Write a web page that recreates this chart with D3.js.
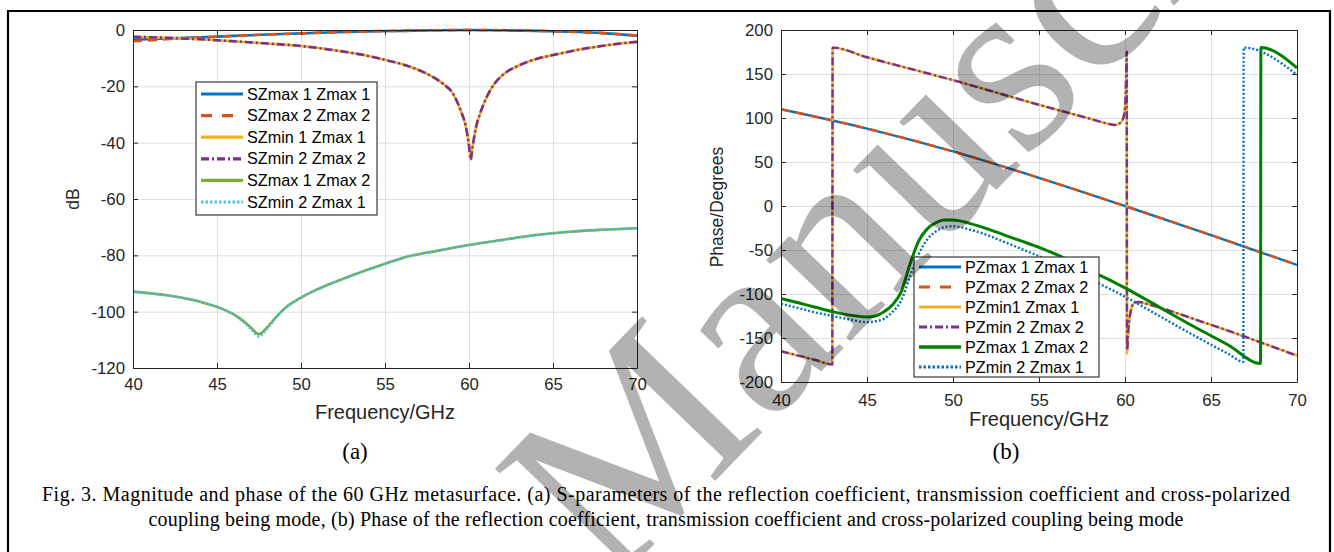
<!DOCTYPE html>
<html>
<head>
<meta charset="utf-8">
<script src="https://cdn.jsdelivr.net/npm/d3@7"></script>
<style>
  body { margin: 0; background: #fff; }
  svg text { font-family: "Liberation Sans", Arial, sans-serif; }
  .grid line { stroke: #dedede; stroke-width: 1; }
  .grid path { display: none; }
  .axis path, .axis line { stroke: #262626; stroke-width: 1; }
  .axis text { fill: #262626; font-size: 16.8px; font-family: "Liberation Sans", Arial, sans-serif; }
</style>
</head>
<body>
<svg id="fig" width="1334" height="552"></svg>
<script>
// ---------- data ----------
const freqTicks = [40, 45, 50, 55, 60, 65, 70];
const magTicks = [0, -20, -40, -60, -80, -100, -120];
const phaseTicks = [200, 150, 100, 50, 0, -50, -100, -150, -200];

const magNames = ["SZmax 1 Zmax 1", "SZmax 2 Zmax 2", "SZmin 1 Zmax 1", "SZmin 2 Zmax 2", "SZmax 1 Zmax 2", "SZmin 2 Zmax 1"];
const phaseNames = ["PZmax 1 Zmax 1", "PZmax 2 Zmax 2", "PZmin1 Zmax 1", "PZmin 2 Zmax 2", "PZmax 1 Zmax 2", "PZmin 2 Zmax 1"];

// (a) magnitude, dB
const magFreqA = [40, 42, 44, 46, 48, 50, 52, 54, 56, 58, 60, 62, 64, 66, 68, 70];
const magSZmax11 = [-3.4, -3.0, -2.6, -2.1, -1.6, -1.2, -0.8, -0.5, -0.3, -0.1, 0, -0.1, -0.3, -0.6, -1.1, -2.0];
const magSZmax22 = [-4.0, -3.3, -2.7, -2.1, -1.6, -1.2, -0.8, -0.5, -0.3, -0.1, 0, -0.1, -0.3, -0.6, -1.1, -2.0];

const magFreqB = [40, 42, 44, 46, 48, 50, 52, 54, 55, 56, 57, 58, 58.5, 59, 59.5, 59.8, 60, 60.1, 60.2, 60.4, 60.7, 61, 61.5, 62, 63, 64, 65, 66, 67, 68, 69, 70];
const magSZmin11 = [-2.4, -2.8, -3.3, -4.0, -4.8, -5.7, -7.2, -9.2, -10.6, -12.1, -14.2, -17.2, -19.3, -22.2, -28.5, -34, -41, -46, -42, -35, -29, -24.5, -19.2, -16, -12.5, -10.3, -8.9, -7.6, -6.5, -5.6, -4.8, -4.2];
const magSZmin22 = [-2.4, -2.8, -3.3, -4.0, -4.8, -5.7, -7.2, -9.2, -10.6, -12.1, -14.2, -17.2, -19.3, -22.2, -28.5, -34, -41, -46, -42, -35, -29, -24.5, -19.2, -16, -12.5, -10.3, -8.9, -7.6, -6.5, -5.6, -4.8, -4.2];

const magFreqC = [40, 42, 44, 45, 46, 46.5, 47, 47.5, 48, 48.5, 49, 50, 51, 52, 54, 55, 56, 58, 60, 62, 64, 66, 68, 70];
const magSZmax12 = [-92.9, -94.2, -96.5, -98.3, -101, -103, -105.5, -108, -105.5, -102, -99, -95, -92, -89.5, -85, -83, -81, -78.5, -76.3, -74.5, -72.8, -71.6, -70.9, -70.4];
const magSZmin21 = [-92.9, -94.2, -96.5, -98.3, -101, -103.3, -106, -108.8, -106, -102.3, -99, -95, -92, -89.5, -85, -83, -81, -78.5, -76.3, -74.5, -72.8, -71.6, -70.9, -70.4];

// (b) phase, degrees
const phFreqA = [40, 45, 50, 55, 60, 65, 70];
const phPZmax11 = [110, 88, 62, 32, 0, -33, -67];
const phPZmax22 = [110, 88, 62, 32, 0, -33, -67];

const phFreqB = [40, 41, 42, 42.98, 43, 45, 50, 55, 58, 59, 59.4, 59.7, 59.9, 60, 60.05, 60.1, 60.12, 60.2, 60.35, 60.5, 60.8, 61.2, 65, 70];
const phPZmin11 = [-165, -170, -175, -180, 180, 169, 143, 115, 99, 93.5, 92, 94, 100, 112, 135, 175, -168, -140, -118, -111, -109, -111, -135, -170];
const phPZmin22 = [-165, -170, -175, -180, 180, 169, 143, 115, 99, 93.5, 92, 94, 100, 112, 135, 175, -164, -140, -118, -111, -109, -111, -135, -170];

const phFreqC = [40, 41, 42, 43, 44, 45, 45.5, 46, 46.5, 47, 47.5, 48, 48.5, 49, 49.5, 50, 51, 52, 53, 54, 55, 56, 57, 58, 59, 60, 62, 64, 66, 67.88, 67.9, 70];
const phPZmax12 = [-105, -110, -115, -120, -124, -126, -125, -120, -112, -97, -66, -40, -26, -19, -16, -16, -20, -26, -33, -40, -47, -55, -64, -74, -83, -93, -115, -137, -158, -179, 180, 157];

const phFreqD = [40, 41, 42, 43, 44, 45, 45.5, 46, 46.5, 47, 47.5, 48, 48.5, 49, 49.5, 50, 51, 52, 53, 54, 55, 56, 57, 58, 59, 60, 62, 64, 66, 66.88, 66.9, 70];
const phPZmin21 = [-111, -116, -121, -125, -129, -132, -131, -128, -120, -107, -80, -55, -38, -29, -24, -23, -27, -33, -41, -49, -57, -66, -75, -84, -93, -103, -125, -147, -168, -177, 180, 149];

const captionLines = [
  "Fig. 3. Magnitude and phase of the 60 GHz metasurface. (a) S-parameters of the reflection coefficient, transmission coefficient and cross-polarized",
  "coupling being mode, (b) Phase of the reflection coefficient, transmission coefficient and cross-polarized coupling being mode"
];

// ---------- styles ----------
const magStyles = [
  { color: "#0072BD", dash: null, w: 2.6 },
  { color: "#D95319", dash: "9,6", w: 2.6 },
  { color: "#EDB120", dash: null, w: 2.6 },
  { color: "#7E2F8E", dash: "8,3,2,3", w: 2.6 },
  { color: "#77AC30", dash: null, w: 2.6 },
  { color: "#4DBEEE", dash: "2,2", w: 2.6 }
];
const phStyles = [
  { color: "#0072BD", dash: null, w: 2.4 },
  { color: "#D95319", dash: "9,6", w: 2.4 },
  { color: "#EDB120", dash: null, w: 2.4 },
  { color: "#7E2F8E", dash: "8,3,2,3", w: 2.4 },
  { color: "#008000", dash: null, w: 3 },
  { color: "#0072BD", dash: "2,2", w: 2.4 }
];

const serif = "'Liberation Serif', 'Times New Roman', Tinos, serif";
const svg = d3.select("#fig");
svg.append("rect").attr("width", 1334).attr("height", 552).attr("fill", "#fff");

function zip(xs, ys) { return xs.map((x, i) => [x, ys[i]]); }
const plain = d => String(d); // hyphen minus like the original, not U+2212

function panel(opt) {
  const x = d3.scaleLinear().domain([40, 70]).range([opt.left, opt.right]);
  const y = d3.scaleLinear().domain(opt.yDomain).range([opt.bottom, opt.top]);
  const g = svg.append("g");
  const w = opt.right - opt.left, h = opt.bottom - opt.top;

  // grid
  g.append("g").attr("class", "grid")
    .attr("transform", "translate(0," + opt.bottom + ")")
    .call(d3.axisBottom(x).tickValues(freqTicks).tickSize(-h).tickFormat(""));
  g.append("g").attr("class", "grid")
    .attr("transform", "translate(" + opt.left + ",0)")
    .call(d3.axisLeft(y).tickValues(opt.yTicks).tickSize(-w).tickFormat(""));

  const clipId = "clip" + opt.id;
  svg.append("clipPath").attr("id", clipId)
    .append("rect").attr("x", opt.left).attr("y", opt.top - 2).attr("width", w).attr("height", h + 4);

  const line = d3.line().x(d => x(d[0])).y(d => y(d[1])).curve(d3.curveMonotoneX);
  const lines = g.append("g").attr("clip-path", "url(#" + clipId + ")");
  opt.series.forEach((s, i) => {
    const st = opt.styles[i];
    lines.append("path")
      .attr("d", line(s))
      .attr("fill", "none")
      .attr("stroke", st.color)
      .attr("stroke-width", st.w)
      .attr("stroke-dasharray", st.dash);
  });

  // axes, ticks pointing inward on all four sides
  g.append("g").attr("class", "axis")
    .attr("transform", "translate(0," + opt.bottom + ")")
    .call(d3.axisBottom(x).tickValues(freqTicks).tickFormat(plain).tickSizeInner(-5).tickSizeOuter(0).tickPadding(opt.xPad));
  g.append("g").attr("class", "axis")
    .attr("transform", "translate(0," + opt.top + ")")
    .call(d3.axisTop(x).tickValues(freqTicks).tickSizeInner(-5).tickSizeOuter(0).tickFormat(""));
  g.append("g").attr("class", "axis")
    .attr("transform", "translate(" + opt.left + ",0)")
    .call(d3.axisLeft(y).tickValues(opt.yTicks).tickFormat(plain).tickSizeInner(-5).tickSizeOuter(0).tickPadding(8));
  g.append("g").attr("class", "axis")
    .attr("transform", "translate(" + opt.right + ",0)")
    .call(d3.axisRight(y).tickValues(opt.yTicks).tickSizeInner(-5).tickSizeOuter(0).tickFormat(""));

  // axis labels
  g.append("text")
    .attr("x", (opt.left + opt.right) / 2).attr("y", opt.xLabelY)
    .attr("text-anchor", "middle").attr("font-size", 20).attr("fill", "#262626")
    .text("Frequency/GHz");
  g.append("text")
    .attr("transform", "translate(" + opt.yLabelX + "," + opt.yLabelY + ") rotate(-90)")
    .attr("text-anchor", "middle").attr("font-size", 17.5).attr("fill", "#262626")
    .text(opt.yLabel);

  // legend
  const lg = g.append("g").attr("transform", "translate(" + opt.legend.x + "," + opt.legend.y + ")");
  lg.append("rect")
    .attr("width", opt.legend.w).attr("height", opt.legend.h)
    .attr("fill", "#fff").attr("stroke", "#3a3a3a").attr("stroke-width", 1.2);
  opt.names.forEach((name, i) => {
    const st = opt.styles[i];
    const cy = opt.legend.row0 + i * opt.legend.step;
    lg.append("line")
      .attr("x1", 5).attr("x2", 47).attr("y1", cy).attr("y2", cy)
      .attr("stroke", st.color).attr("stroke-width", st.w + 0.6)
      .attr("stroke-dasharray", st.dash === "2,2" ? "2.5,2" : st.dash === "9,6" ? "11,10" : st.dash);
    lg.append("text")
      .attr("x", 51).attr("y", cy + 5.5)
      .attr("font-size", 16.2).attr("fill", "#000")
      .text(name);
  });

  // sub caption
  svg.append("text")
    .attr("x", opt.subX).attr("y", 459)
    .attr("text-anchor", "middle")
    .style("font-family", serif)
    .attr("font-size", 23).attr("fill", "#000")
    .text(opt.sub);
}

panel({
  id: "a", left: 133, right: 637, top: 30, bottom: 368,
  yDomain: [-120, 0], yTicks: magTicks, xPad: 10,
  xLabelY: 419, yLabel: "dB", yLabelX: 79, yLabelY: 199,
  names: magNames, styles: magStyles,
  series: [zip(magFreqA, magSZmax11), zip(magFreqA, magSZmax22), zip(magFreqB, magSZmin11),
           zip(magFreqB, magSZmin22), zip(magFreqC, magSZmax12), zip(magFreqC, magSZmin21)],
  legend: { x: 196, y: 82, w: 181, h: 133, row0: 12, step: 21.6 },
  sub: "(a)", subX: 355
});

panel({
  id: "b", left: 781, right: 1297, top: 30, bottom: 382,
  yDomain: [-200, 200], yTicks: phaseTicks, xPad: 12,
  xLabelY: 426, yLabel: "Phase/Degrees", yLabelX: 723, yLabelY: 207,
  names: phaseNames, styles: phStyles,
  series: [zip(phFreqA, phPZmax11), zip(phFreqA, phPZmax22), zip(phFreqB, phPZmin11),
           zip(phFreqB, phPZmin22), zip(phFreqC, phPZmax12), zip(phFreqD, phPZmin21)],
  legend: { x: 914, y: 257, w: 185, h: 120, row0: 10, step: 20 },
  sub: "(b)", subX: 1006
});

// caption: first line justified, second centred
const capWidths = [1248, 1035];
captionLines.forEach((t, i) => {
  svg.append("text")
    .attr("x", 666).attr("y", 501 + i * 25)
    .attr("text-anchor", "middle")
    .attr("textLength", capWidths[i]).attr("lengthAdjust", "spacing")
    .style("font-family", serif)
    .attr("font-size", 20).attr("fill", "#000")
    .text(t);
});

// outer frame
svg.append("path")
  .attr("d", "M8,552V11H1330V552")
  .attr("fill", "none").attr("stroke", "#000").attr("stroke-width", 2.2);

// watermark
svg.append("text")
  .attr("transform", "translate(610,590) rotate(-46)")
  .style("font-family", serif)
  .attr("font-size", 255).attr("fill", "#000").attr("fill-opacity", 0.3)
  .text("Manuscript");
</script>
</body>
</html>
